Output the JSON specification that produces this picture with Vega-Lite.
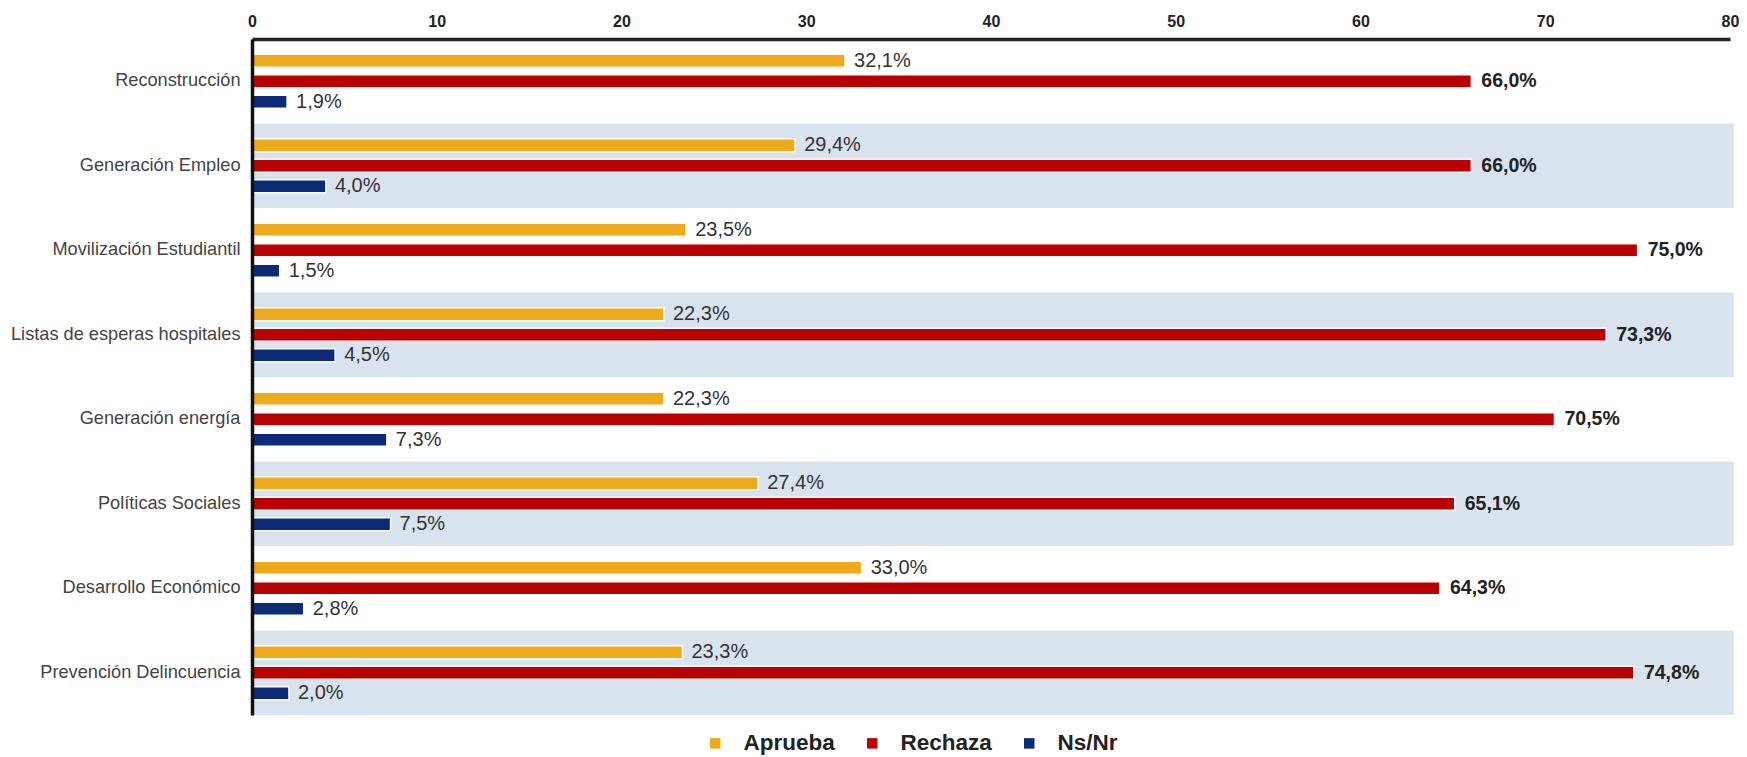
{
  "$schema": "https://vega.github.io/schema/vega-lite/v6.json",
  "autosize": {"type": "none"},
  "padding": {"left": 252, "top": 39, "right": 17, "bottom": 42},
  "width": 1478,
  "height": 676,
  "background": "#ffffff",
  "datasets": {
    "bars": [
      {"cat": "Reconstrucción", "serie": "Aprueba", "value": 32.1},
      {"cat": "Reconstrucción", "serie": "Rechaza", "value": 66.0},
      {"cat": "Reconstrucción", "serie": "Ns/Nr", "value": 1.9},
      {"cat": "Generación Empleo", "serie": "Aprueba", "value": 29.4},
      {"cat": "Generación Empleo", "serie": "Rechaza", "value": 66.0},
      {"cat": "Generación Empleo", "serie": "Ns/Nr", "value": 4.0},
      {"cat": "Movilización Estudiantil", "serie": "Aprueba", "value": 23.5},
      {"cat": "Movilización Estudiantil", "serie": "Rechaza", "value": 75.0},
      {"cat": "Movilización Estudiantil", "serie": "Ns/Nr", "value": 1.5},
      {"cat": "Listas de esperas hospitales", "serie": "Aprueba", "value": 22.3},
      {"cat": "Listas de esperas hospitales", "serie": "Rechaza", "value": 73.3},
      {"cat": "Listas de esperas hospitales", "serie": "Ns/Nr", "value": 4.5},
      {"cat": "Generación energía", "serie": "Aprueba", "value": 22.3},
      {"cat": "Generación energía", "serie": "Rechaza", "value": 70.5},
      {"cat": "Generación energía", "serie": "Ns/Nr", "value": 7.3},
      {"cat": "Políticas Sociales", "serie": "Aprueba", "value": 27.4},
      {"cat": "Políticas Sociales", "serie": "Rechaza", "value": 65.1},
      {"cat": "Políticas Sociales", "serie": "Ns/Nr", "value": 7.5},
      {"cat": "Desarrollo Económico", "serie": "Aprueba", "value": 33.0},
      {"cat": "Desarrollo Económico", "serie": "Rechaza", "value": 64.3},
      {"cat": "Desarrollo Económico", "serie": "Ns/Nr", "value": 2.8},
      {"cat": "Prevención Delincuencia", "serie": "Aprueba", "value": 23.3},
      {"cat": "Prevención Delincuencia", "serie": "Rechaza", "value": 74.8},
      {"cat": "Prevención Delincuencia", "serie": "Ns/Nr", "value": 2.0}
    ],
    "bands": [
      {"cat": "Generación Empleo"},
      {"cat": "Listas de esperas hospitales"},
      {"cat": "Políticas Sociales"},
      {"cat": "Prevención Delincuencia"}
    ]
  },
  "layer": [
    {
      "data": {"name": "bands"},
      "mark": {"type": "rect", "color": "#d9e3ee"},
      "encoding": {
        "y": {"field": "cat", "type": "nominal"},
        "x": {"datum": 0, "type": "quantitative"},
        "x2": {"datum": 80.2}
      }
    },
    {
      "data": {"name": "bars"},
      "mark": {"type": "bar", "stroke": "#ffffff", "strokeWidth": 1.5},
      "encoding": {
        "y": {"field": "cat", "type": "nominal"},
        "yOffset": {"field": "serie", "type": "nominal", "sort": ["Aprueba", "Rechaza", "Ns/Nr"],
          "scale": {"paddingInner": 0.36, "paddingOuter": 0.75}},
        "x": {"field": "value", "type": "quantitative"},
        "color": {"field": "serie", "type": "nominal"}
      }
    },
    {
      "data": {"name": "bars"},
      "transform": [
        {"filter": "datum.serie !== 'Rechaza'"},
        {"calculate": "replace(format(datum.value, '.1f'), '.', ',') + '%'", "as": "label"}
      ],
      "mark": {"type": "text", "align": "left", "baseline": "middle", "dx": 9, "fontSize": 20, "font": "Liberation Sans", "color": "#333333"},
      "encoding": {
        "y": {"field": "cat", "type": "nominal"},
        "yOffset": {"field": "serie", "type": "nominal", "sort": ["Aprueba", "Rechaza", "Ns/Nr"],
          "scale": {"paddingInner": 0.36, "paddingOuter": 0.75}},
        "x": {"field": "value", "type": "quantitative"},
        "text": {"field": "label"}
      }
    },
    {
      "data": {"name": "bars"},
      "transform": [
        {"filter": "datum.serie === 'Rechaza'"},
        {"calculate": "replace(format(datum.value, '.1f'), '.', ',') + '%'", "as": "label"}
      ],
      "mark": {"type": "text", "align": "left", "baseline": "middle", "dx": 10, "fontSize": 19.5, "fontWeight": "bold", "font": "Liberation Sans", "color": "#222222"},
      "encoding": {
        "y": {"field": "cat", "type": "nominal"},
        "yOffset": {"field": "serie", "type": "nominal", "sort": ["Aprueba", "Rechaza", "Ns/Nr"],
          "scale": {"paddingInner": 0.36, "paddingOuter": 0.75}},
        "x": {"field": "value", "type": "quantitative"},
        "text": {"field": "label"}
      }
    }
  ],
  "resolve": {"scale": {"yOffset": "shared"}},
  "encoding": {
    "y": {
      "field": "cat",
      "type": "nominal",
      "sort": ["Reconstrucción", "Generación Empleo", "Movilización Estudiantil", "Listas de esperas hospitales", "Generación energía", "Políticas Sociales", "Desarrollo Económico", "Prevención Delincuencia"],
      "scale": {"domain": ["Reconstrucción", "Generación Empleo", "Movilización Estudiantil", "Listas de esperas hospitales", "Generación energía", "Políticas Sociales", "Desarrollo Económico", "Prevención Delincuencia"], "paddingInner": 0, "paddingOuter": 0},
      "axis": {"title": null, "orient": "left", "ticks": false, "domainColor": "#111111", "domainWidth": 3.5, "labelPadding": 12, "labelFontSize": 18.2, "labelLimit": 400, "labelFont": "Liberation Sans", "labelColor": "#444444"}
    },
    "x": {
      "type": "quantitative",
      "scale": {"domain": [0, 80], "nice": false},
      "axis": {"title": null, "orient": "top", "values": [0, 10, 20, 30, 40, 50, 60, 70, 80], "ticks": false, "grid": false, "domainColor": "#222222", "domainWidth": 3.5, "labelPadding": 10, "labelFontSize": 16, "labelFontWeight": "bold", "labelFont": "Liberation Sans", "labelColor": "#222222", "labelFlush": false}
    },
    "color": {
      "type": "nominal",
      "scale": {"domain": ["Aprueba", "Rechaza", "Ns/Nr"], "range": ["#EFAA1C", "#BA0000", "#0B2A78"]},
      "legend": {"title": null, "orient": "none", "direction": "horizontal", "legendX": 452, "legendY": 693, "symbolType": "square", "symbolSize": 110, "symbolStrokeWidth": 0, "labelFontSize": 22.5, "labelFontWeight": "bold", "labelFont": "Liberation Sans", "labelColor": "#222222", "labelOffset": 17, "columnPadding": 26, "padding": 0}
    }
  },
  "config": {"view": {"stroke": null}}
}
